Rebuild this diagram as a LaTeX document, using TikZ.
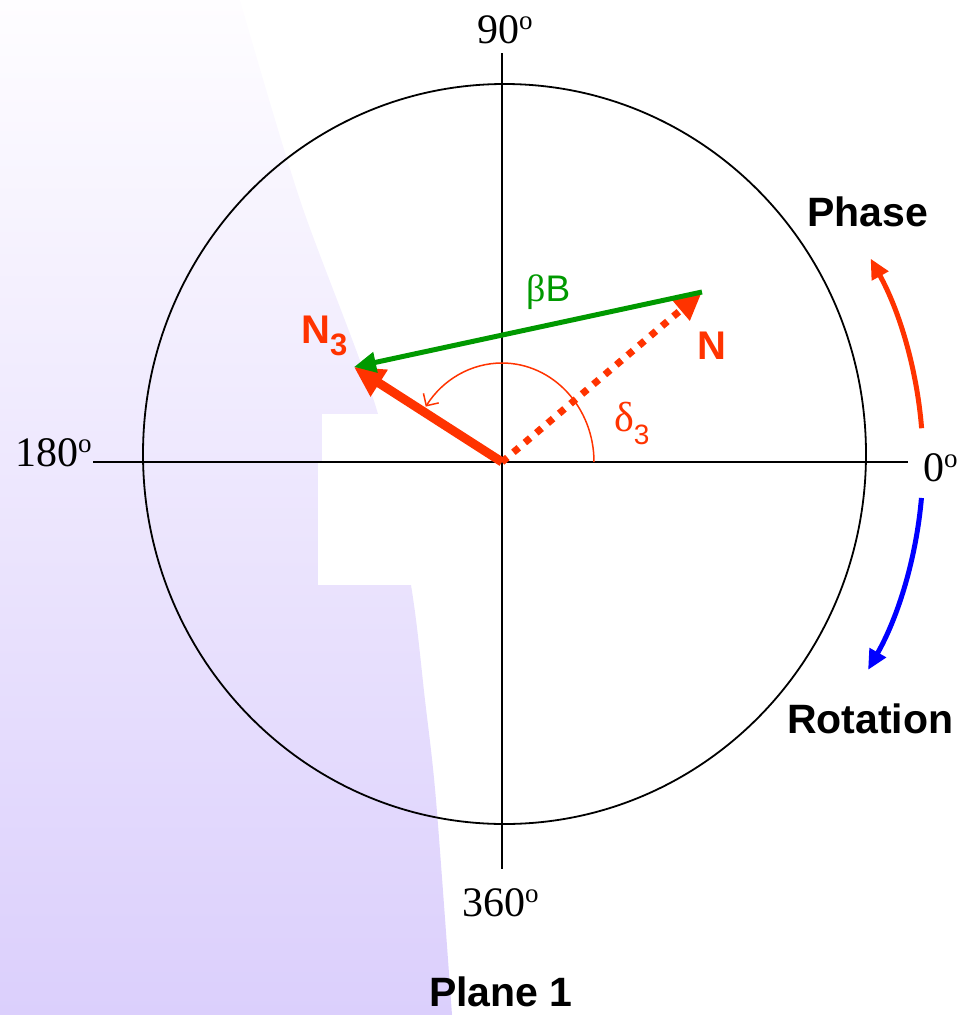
\documentclass[tikz,border=0pt]{standalone}
\usepackage{fontspec}
\setmainfont{Liberation Serif}
\newfontfamily\arialf{Liberation Sans}
\usetikzlibrary{arrows.meta}
\definecolor{myred}{RGB}{255,51,0}
\definecolor{mygreen}{RGB}{0,153,0}
\definecolor{myblue}{RGB}{0,0,255}
\definecolor{lavtop}{RGB}{254,253,255}
\definecolor{lavbot}{RGB}{219,207,252}
\newcommand\degsup{\raisebox{14pt}{\fontsize{27}{27}\selectfont o}}
\newcommand\bigserif{\fontsize{42}{42}\selectfont}
\newcommand\boldlab{\arialf\bfseries\fontsize{41}{41}\selectfont}
\begin{document}
\begin{tikzpicture}[x=1pt,y=-1pt,
  lab/.style={inner sep=0pt,anchor=base west},
  axisline/.style={line width=1.8pt,black},
  vecline/.style={myred,line width=9pt}]
\useasboundingbox (0,0) rectangle (961,1015);
% background
\shade[top color=lavtop,bottom color=lavbot] (0,0) -- plot[smooth] coordinates {(240,0) (300,200) (378,414) (411,585) (425,700) (436,800) (452,1015)} -- (0,1015) -- cycle;
\fill[white] (322,414) rectangle (420,462);
\fill[white] (318,462) rectangle (420,585);
% coordinates
\coordinate (O) at (502,462);
\coordinate (Ntip) at (702,292);
\coordinate (N3tip) at (354,367);
\coordinate (axL) at (93,462);
\coordinate (axR) at (908,462);
\coordinate (axT) at (502,53);
\coordinate (axB) at (502,869);
% circle and axes
\draw[axisline] (504.5,454) ellipse [x radius=361.5, y radius=370];
\draw[axisline] (axL) -- (axR);
\draw[axisline] (axT) -- (axB);
% angle arc
\draw[myred,line width=1.5pt,-{Straight Barb[length=9pt,width=18pt]}] ([shift={(92,0)}]O) arc[start angle=0,end angle=-146,x radius=92,y radius=99];
% vectors
\draw[myred,line width=7pt,dash pattern=on 7pt off 8pt,-{Triangle[length=28pt,width=26pt]}] (O) -- (Ntip);
\draw[vecline,-{Triangle[length=30pt,width=30pt]}] (O) -- (N3tip);
\draw[mygreen,line width=5pt,-{Triangle[length=22pt,width=20pt]}] (Ntip) -- (N3tip);
% rotation arrows
\draw[myred,line width=5pt,-{Triangle[length=20pt,width=18pt]}] ([shift={(-4.6:421)}]O) arc[start angle=-4.6,end angle=-28.9,radius=421];
\draw[myblue,line width=5pt,-{Triangle[length=20pt,width=18pt]}] ([shift={(4.9:421)}]O) arc[start angle=4.9,end angle=29.6,radius=421];
% labels
\node[lab] (l90) at (477,43) {\bigserif 90\degsup};
\node[lab] (l180) at (15,466) {\bigserif 180\degsup};
\node[lab] (l0) at (923,481) {\bigserif 0\degsup};
\node[lab] (l360) at (462,916) {\bigserif 360\degsup};
\node[lab] (phase) at (807,226) {\boldlab Phase};
\node[lab] (rot) at (787,733) {\boldlab Rotation};
\node[lab] (plane) at (429,1006) {\boldlab Plane 1};
\node[lab,myred] (lN) at (697,359) {\arialf\bfseries\fontsize{40}{40}\selectfont N};
\node[lab,myred] (lN3) at (301,343) {\arialf\bfseries\fontsize{40}{40}\selectfont N\raisebox{-12pt}{\fontsize{31}{31}\selectfont 3}};
\node[lab,mygreen] (lbB) at (526,301) {\fontsize{38}{38}\selectfont β{\arialf\fontsize{37}{37}\selectfont B}};
\node[lab,myred] (ld3) at (614,431) {\fontsize{42}{42}\selectfont δ{\arialf\raisebox{-13pt}{\fontsize{28}{28}\selectfont 3}}};
\end{tikzpicture}
\end{document}
